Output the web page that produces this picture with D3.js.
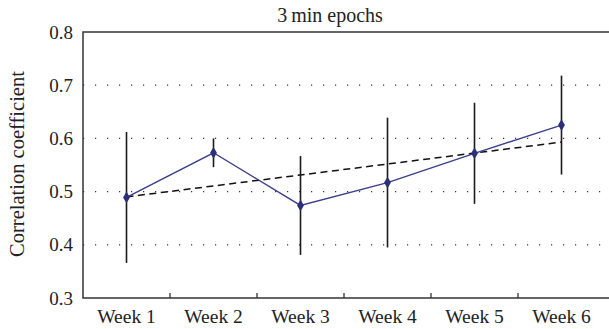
<!DOCTYPE html>
<html><head><meta charset="utf-8">
<script src="https://cdn.jsdelivr.net/npm/d3@7"></script>
<style>body{margin:0;background:#fff}svg{display:block}</style>
</head><body><svg id="c" width="609" height="329"></svg>
<script>
const categories = ["Week 1","Week 2","Week 3","Week 4","Week 5","Week 6"];
const means = [0.489, 0.573, 0.474, 0.517, 0.572, 0.625];
const upper = [0.612, 0.600, 0.567, 0.639, 0.667, 0.718];
const lower = [0.366, 0.546, 0.381, 0.395, 0.477, 0.532];
const trendWeeks = ["Week 1","Week 6"];
const trendValues = [0.490, 0.593];
const yTicks = [0.3, 0.4, 0.5, 0.6, 0.7, 0.8];
const title = "3\u2009min epochs";
const yLabel = "Correlation coefficient";

const FONT = "'Liberation Serif', 'DejaVu Serif', serif";
const svg = d3.select("#c").attr("font-family", FONT);
const L = 83, R = 605, T = 32, B = 298;
const x = d3.scaleBand().domain(categories).range([L, R]);
const y = d3.scaleLinear().domain([0.3, 0.8]).range([B, T]);
const cx = d => x(d) + x.bandwidth()/2;

svg.append("g").selectAll("line").data(yTicks.filter(v => v > 0.3 && v < 0.8)).join("line")
  .attr("x1", L).attr("x2", 609).attr("y1", d => y(d)).attr("y2", d => y(d))
  .attr("stroke", "#333").attr("stroke-width", 1.2).attr("stroke-dasharray", "1.2,10.8");

svg.append("path").attr("d", `M609,${T}H${L}V${B}H609`).attr("fill","none").attr("stroke","#333").attr("stroke-width",1.5);

svg.append("g").selectAll("line").data(categories.slice(1)).join("line")
  .attr("x1", d => x(d)).attr("x2", d => x(d)).attr("y1", B).attr("y2", B-5)
  .attr("stroke","#333").attr("stroke-width",1.3);

svg.append("g").selectAll("text").data(yTicks).join("text")
  .attr("x", 73).attr("y", d => y(d)).attr("dy", "0.35em").attr("text-anchor","end")
  .attr("font-family", FONT).attr("fill", "#222")
  .attr("font-size", 19).text(d => d3.format(".1f")(d));

svg.append("g").selectAll("text").data(categories).join("text")
  .attr("x", d => cx(d)).attr("y", 323).attr("text-anchor","middle")
  .attr("font-family", FONT).attr("fill", "#222")
  .attr("font-size", 19.5).text(d => d);

svg.append("text").attr("x", 330).attr("y", 22).attr("text-anchor","middle")
  .attr("font-family", FONT).attr("fill", "#222").attr("font-size", 20).text(title);

svg.append("text").attr("transform", "translate(24,164) rotate(-90)").attr("text-anchor","middle")
  .attr("font-family", FONT).attr("fill", "#222").attr("font-size", 20.5).text(yLabel);

svg.append("g").selectAll("line").data(categories).join("line")
  .attr("x1", d => cx(d)).attr("x2", d => cx(d))
  .attr("y1", (d,i) => y(upper[i])).attr("y2", (d,i) => y(lower[i]))
  .attr("stroke","#1a1a1a").attr("stroke-width",1.6);

svg.append("path").datum(trendWeeks.map((w,i) => [cx(w), y(trendValues[i])]))
  .attr("d", d3.line()).attr("fill","none").attr("stroke","#111").attr("stroke-width",1.5)
  .attr("stroke-dasharray","7,4.5");

svg.append("path").datum(categories.map((c,i) => [cx(c), y(means[i])]))
  .attr("d", d3.line()).attr("fill","none").attr("stroke","#3a3e8c").attr("stroke-width",1.4);

svg.append("g").selectAll("path").data(categories).join("path")
  .attr("transform", (d,i) => `translate(${cx(d)},${y(means[i])})`)
  .attr("d", d3.symbol().type(d3.symbolDiamond).size(40))
  .attr("fill", "#2b2f78");
</script></body></html>
